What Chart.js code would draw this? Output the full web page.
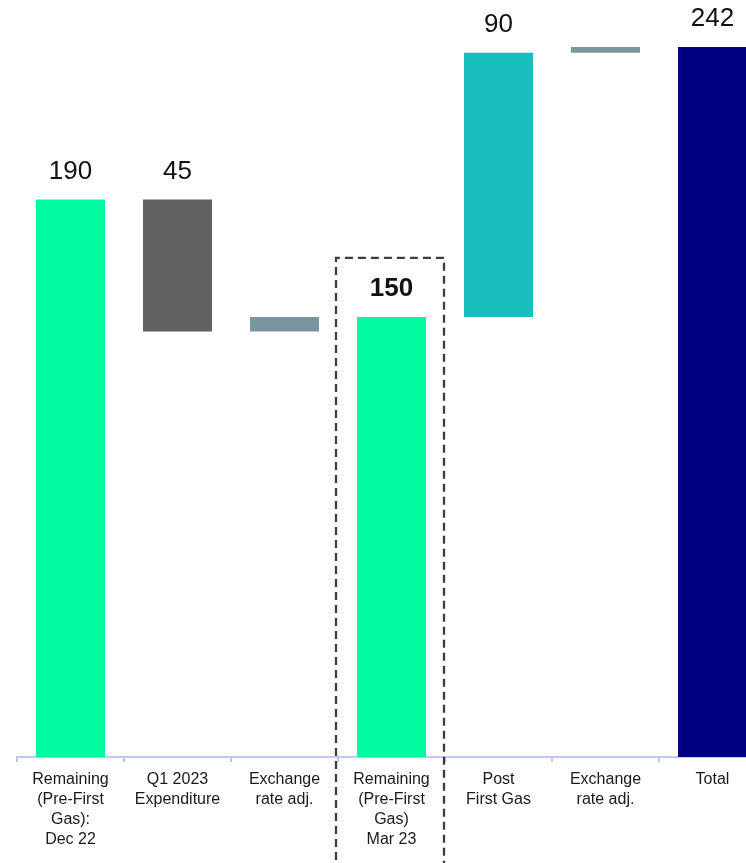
<!DOCTYPE html>
<html>
<head>
<meta charset="utf-8">
<script src="https://cdn.jsdelivr.net/npm/chart.js@4.4.0/dist/chart.umd.min.js"></script>
<style>
  html, body { margin: 0; padding: 0; background: #fff; overflow: hidden; }
  #wrap { position: relative; width: 766px; height: 863px; }
</style>
</head>
<body>
<div id="wrap"><canvas id="waterfall"></canvas></div>
<script>
/* waterfall data */
const categories = [
  ['Remaining', '(Pre-First', 'Gas):', 'Dec 22'],
  ['Q1 2023', 'Expenditure'],
  ['Exchange', 'rate adj.'],
  ['Remaining', '(Pre-First', 'Gas)', 'Mar 23'],
  ['Post', 'First Gas'],
  ['Exchange', 'rate adj.'],
  ['Total']
];
const barLow = [0, 145, 145, 0, 150, 240, 0];
const barHigh = [190, 190, 150, 150, 240, 242, 242];
const valueLabels = ['190', '45', '', '150', '90', '', '242'];
const barColors = ['#00fa9f', '#616161', '#7b95a0', '#00fa9f', '#19bfbf', '#7b95a0', '#000080'];
const highlightIndex = 3; // boxed, bold label

const FONT = "'Liberation Sans', Arial, Helvetica, sans-serif";

/* value labels above bars */
const valueLabelPlugin = {
  id: 'valueLabels',
  afterDatasetsDraw(chart) {
    const ctx = chart.ctx;
    const meta = chart.getDatasetMeta(0);
    ctx.save();
    ctx.textAlign = 'center';
    ctx.textBaseline = 'middle';
    ctx.fillStyle = '#111';
    meta.data.forEach((bar, i) => {
      if (!valueLabels[i]) return;
      ctx.font = (i === highlightIndex ? 'bold ' : '') + '26px ' + FONT;
      ctx.fillText(valueLabels[i], bar.x, bar.y - 28);
    });
    ctx.restore();
  }
};

/* dashed box round the highlighted column */
const boxPlugin = {
  id: 'dashedBox',
  afterDraw(chart) {
    const ctx = chart.ctx;
    const x = chart.scales.x;
    const bar = chart.getDatasetMeta(0).data[highlightIndex];
    const half = (x.getPixelForValue(1) - x.getPixelForValue(0)) / 2;
    const left = x.getPixelForValue(highlightIndex) - half - 2;
    const right = x.getPixelForValue(highlightIndex) + half - 1;
    const top = bar.y - 59;
    const bottom = chart.height + 10;
    ctx.save();
    ctx.strokeStyle = '#3d3d3d';
    ctx.lineWidth = 2.3;
    ctx.setLineDash([8, 5]);
    ctx.beginPath();
    ctx.moveTo(left, bottom);
    ctx.lineTo(left, top);
    ctx.lineTo(right, top);
    ctx.lineTo(right, bottom);
    ctx.stroke();
    ctx.restore();
  }
};

const ctx = document.getElementById('waterfall').getContext('2d');
const waterfallChart = new Chart(ctx, {
  type: 'bar',
  data: {
    labels: categories,
    datasets: [{
      data: barLow.map((lo, i) => [lo, barHigh[i]]),
      backgroundColor: barColors,
      borderWidth: 0,
      categoryPercentage: 1,
      barPercentage: 0.645
    }]
  },
  options: {
    responsive: true,
    maintainAspectRatio: false,
    animation: false,
    layout: { padding: { left: 17, right: 0, top: 0, bottom: 0 } },
    plugins: { legend: { display: false }, tooltip: { enabled: false } },
    scales: {
      x: {
        grid: {
          display: true,
          drawOnChartArea: false,
          drawTicks: true,
          tickLength: 5,
          lineWidth: 2,
          color: '#c3c8ef',
          offset: true
        },
        border: { display: true, color: '#c3c8ef', width: 2 },
        ticks: {
          color: '#1a1a1a',
          font: { family: FONT, size: 16, lineHeight: 1.25 },
          padding: 8,
          maxRotation: 0,
          autoSkip: false
        },
        afterFit(scale) { scale.height = 106; }
      },
      y: {
        display: false,
        min: 0,
        max: 258
      }
    }
  },
  plugins: [valueLabelPlugin, boxPlugin]
});
</script>
</body>
</html>
